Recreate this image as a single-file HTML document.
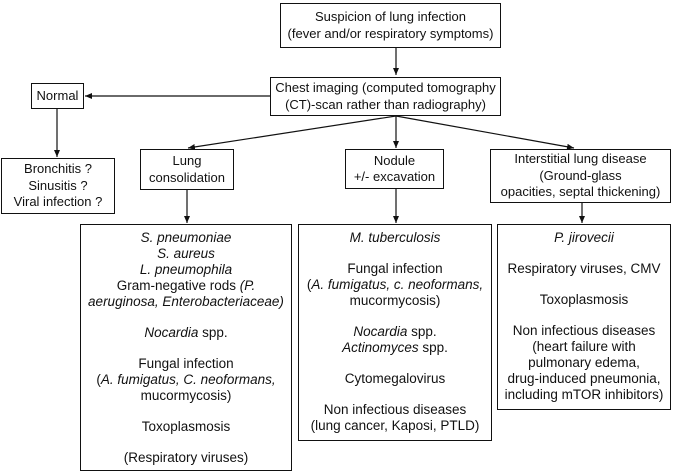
<!DOCTYPE html>
<html><head><meta charset="utf-8"><style>
body{margin:0;width:673px;height:473px;background:#fff;position:relative;overflow:hidden;font-family:"Liberation Sans",Arial,sans-serif;font-size:13px;color:#111;}
.b{position:absolute;border:1.3px solid #111;box-sizing:border-box;text-align:center;line-height:16.5px;display:flex;flex-direction:column;justify-content:center;}
.t{justify-content:flex-start;padding-top:5px;font-size:13.5px;line-height:16px;}
i{font-style:italic}
p{margin:0;flex-shrink:0;white-space:nowrap}
.g{height:15px;flex-shrink:0}
svg{position:absolute;left:0;top:0}
</style></head><body>
<svg width="673" height="473">
<defs><marker id="a" markerWidth="8" markerHeight="8" refX="7" refY="3" orient="auto" markerUnits="userSpaceOnUse"><path d="M0,0 L7,3 L0,6 z" fill="#111"/></marker></defs>
<g stroke="#111" stroke-width="1.2" fill="none">
<line x1="396" y1="48" x2="396" y2="75" marker-end="url(#a)"/>
<line x1="270" y1="96" x2="85" y2="96" marker-end="url(#a)"/>
<line x1="57" y1="109" x2="57" y2="157" marker-end="url(#a)"/>
<line x1="396" y1="116" x2="188" y2="148" marker-end="url(#a)"/>
<line x1="396" y1="116" x2="396" y2="148" marker-end="url(#a)"/>
<line x1="396" y1="116" x2="574" y2="148" marker-end="url(#a)"/>
<line x1="187" y1="190" x2="187" y2="223" marker-end="url(#a)"/>
<line x1="396" y1="188" x2="396" y2="223" marker-end="url(#a)"/>
<line x1="582" y1="203" x2="582" y2="223" marker-end="url(#a)"/>
</g></svg>
<div class="b" style="left:280px;top:3px;width:221px;height:45px"><p>Suspicion of lung infection</p><p>(fever and/or respiratory symptoms)</p></div>
<div class="b" style="left:270px;top:77px;width:231px;height:39px"><p>Chest imaging (computed tomography</p><p>(CT)-scan rather than radiography)</p></div>
<div class="b" style="left:31px;top:83px;width:53px;height:26px"><p>Normal</p></div>
<div class="b" style="left:1px;top:158px;width:114px;height:56px"><p>Bronchitis ?</p><p>Sinusitis ?</p><p>Viral infection ?</p></div>
<div class="b" style="left:140px;top:149px;width:94px;height:41px"><p>Lung</p><p>consolidation</p></div>
<div class="b" style="left:345px;top:149px;width:99px;height:40px"><p>Nodule</p><p>+/- excavation</p></div>
<div class="b" style="left:490px;top:149px;width:181px;height:54px"><p>Interstitial lung disease</p><p>(Ground-glass</p><p>opacities, septal thickening)</p></div>
<div class="b t" style="left:80px;top:224px;width:212px;height:247px">
<p><i>S. pneumoniae</i></p><p><i>S. aureus</i></p><p><i>L. pneumophila</i></p><p>Gram-negative rods <i>(P.</i></p><p><i>aeruginosa, Enterobacteriaceae)</i></p><div class="g"></div>
<p><i>Nocardia</i> spp.</p><div class="g"></div>
<p>Fungal infection</p><p>(<i>A. fumigatus, C. neoformans,</i></p><p>mucormycosis)</p><div class="g"></div>
<p>Toxoplasmosis</p><div class="g"></div><p>(Respiratory viruses)</p></div>
<div class="b t" style="left:298px;top:224px;width:194px;height:217px">
<p><i>M. tuberculosis</i></p><div class="g"></div>
<p>Fungal infection</p><p>(<i>A. fumigatus, c. neoformans,</i></p><p>mucormycosis)</p><div class="g"></div>
<p><i>Nocardia</i> spp.</p><p><i>Actinomyces</i> spp.</p><div class="g"></div>
<p>Cytomegalovirus</p><div class="g"></div>
<p>Non infectious diseases</p><p>(lung cancer, Kaposi, PTLD)</p></div>
<div class="b t" style="left:497px;top:224px;width:174px;height:186px">
<p><i>P. jirovecii</i></p><div class="g"></div>
<p>Respiratory viruses, CMV</p><div class="g"></div>
<p>Toxoplasmosis</p><div class="g"></div>
<p>Non infectious diseases</p><p>(heart failure with</p><p>pulmonary edema,</p><p>drug-induced pneumonia,</p><p>including mTOR inhibitors)</p></div>
</body></html>
